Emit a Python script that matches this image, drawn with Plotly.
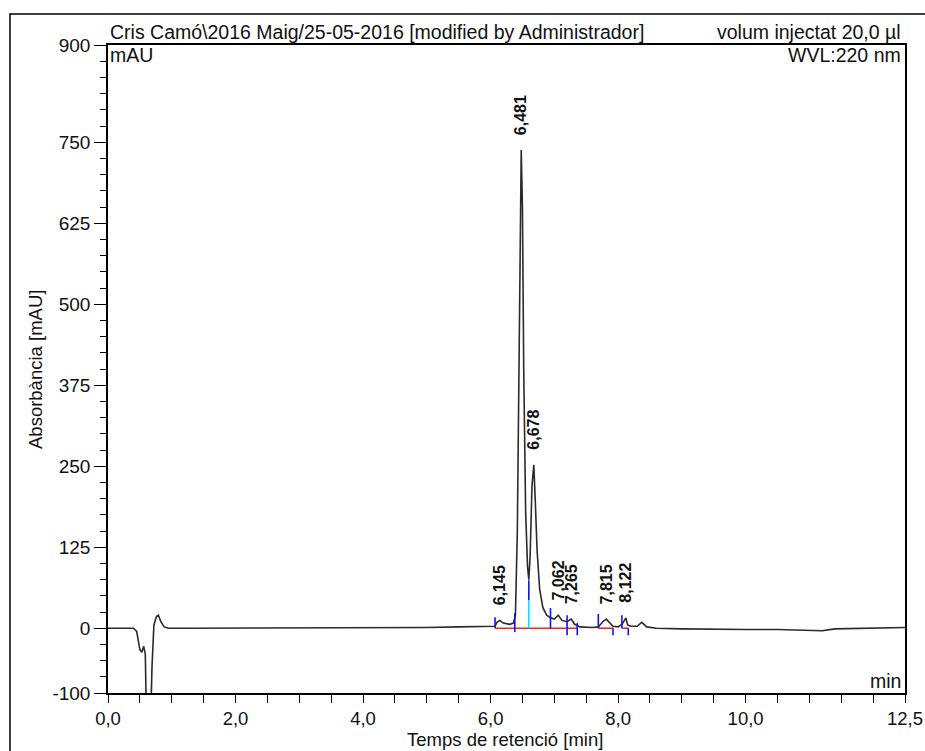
import plotly.graph_objects as go

# ---- data ----
time_min = [0.0, 0.40, 0.45, 0.50, 0.53, 0.56, 0.585, 0.61, 0.66, 0.69, 0.72, 0.76, 0.79, 0.83,
            0.88, 0.95, 1.2, 2.0, 3.0, 4.0, 5.0, 5.5, 6.0, 6.07, 6.10, 6.145, 6.2, 6.3, 6.36,
            6.39, 6.42, 6.45, 6.47, 6.481, 6.50, 6.52, 6.55, 6.58, 6.60, 6.62, 6.65, 6.678,
            6.70, 6.73, 6.77, 6.82, 6.88, 6.94, 7.0, 7.062, 7.12, 7.2, 7.265, 7.32, 7.4, 7.6,
            7.69, 7.76, 7.815, 7.86, 7.92, 8.0, 8.06, 8.1, 8.122, 8.15, 8.2, 8.3, 8.37, 8.45,
            8.6, 9.0, 9.5, 10.0, 10.5, 11.0, 11.2, 11.4, 12.0, 12.5]
absorbance = [0, 0, -5, -33, -37, -28, -40, -180, -180, -60, 5, 18, 20, 10,
              2, 0, 0, 0, 0, 0.5, 1, 2, 2, 3, 9, 12, 8, 6, 8,
              20, 150, 500, 720, 738, 650, 400, 180, 95, 75, 110, 220, 252,
              200, 120, 60, 32, 20, 16, 14, 20, 12, 10, 14, 6, 2, 1,
              2, 10, 14, 9, 3, 2, 6, 12, 16, 5, 3, 3, 9, 2,
              0, -1, -2, -2, -2, -3, -4, -1, 0, 1]

peak_times = [6.145, 6.481, 6.678, 7.062, 7.265, 7.815, 8.122]
peak_heights = [12, 738, 252, 20, 14, 14, 16]
peak_labels = ["6,145", "6,481", "6,678", "7,062", "7,265", "7,815", "8,122"]

# integration baselines (start, end) in minutes
baseline_segments = [(6.07, 7.36), (7.69, 7.92), (8.06, 8.16)]
# peak boundary markers: time, low, high (mAU)
boundary_times = [6.07, 6.38, 6.94, 7.20, 7.36, 7.69, 7.92, 8.06, 8.16]
boundary_low = [0, -6, 0, -11, -11, 0, -11, 0, -11]
boundary_high = [17, 23, 31, 20, 8, 22, 0, 20, 0]
drop_time = 6.60
drop_low, drop_mid, drop_high = 0, 43, 74

x_tickvals = [0, 2, 4, 6, 8, 10, 12.5]
x_ticktext = ["0,0", "2,0", "4,0", "6,0", "8,0", "10,0", "12,5"]
y_tickvals = [-100, 0, 125, 250, 375, 500, 625, 750, 900]
y_ticktext = ["-100", "0", "125", "250", "375", "500", "625", "750", "900"]

FONT = "Arial, Liberation Sans, sans-serif"
TXT = 19.5

fig = go.Figure()

# red baselines
bx, by = [], []
for s, e in baseline_segments:
    bx += [s, e, None]
    by += [0, 0, None]
fig.add_trace(go.Scatter(x=bx, y=by, mode="lines", line=dict(color="#ff2020", width=1.6),
                         hoverinfo="skip", showlegend=False))

# chromatogram
fig.add_trace(go.Scatter(x=time_min, y=absorbance, mode="lines",
                         line=dict(color="#2b2b2b", width=1.6), showlegend=False))

# boundary ticks
tx, ty = [], []
for t, lo, hi in zip(boundary_times, boundary_low, boundary_high):
    tx += [t, t, None]
    ty += [lo, hi, None]
tx += [drop_time, drop_time, None]
ty += [drop_mid, drop_high, None]
fig.add_trace(go.Scatter(x=tx, y=ty, mode="lines", line=dict(color="#1010ff", width=1.6),
                         hoverinfo="skip", showlegend=False))
fig.add_trace(go.Scatter(x=[drop_time, drop_time], y=[drop_low, drop_mid], mode="lines",
                         line=dict(color="#00e5ff", width=1.6), hoverinfo="skip", showlegend=False))

annotations = []
for t, h, lab in zip(peak_times, peak_heights, peak_labels):
    annotations.append(dict(x=t, y=h, xref="x", yref="y", text="<b>" + lab + "</b>", showarrow=False,
                            textangle=-90, yanchor="bottom", xanchor="center", yshift=14,
                            font=dict(family=FONT, size=16, color="#111"), borderpad=0))

annotations += [
    dict(x=0, y=1.020, xref="paper", yref="paper", xanchor="left", yanchor="middle",
         text="Cris Camó\\2016 Maig/25-05-2016 [modified by Administrador]", showarrow=False,
         font=dict(family=FONT, size=TXT, color="#111")),
    dict(x=0.9975, y=1.020, xref="paper", yref="paper", xanchor="right", yanchor="middle",
         text="volum injectat 20,0 µl", showarrow=False, font=dict(family=FONT, size=TXT, color="#111")),
    dict(x=0.0, y=0.9846, xref="paper", yref="paper", xanchor="left", yanchor="middle",
         text="mAU", showarrow=False, font=dict(family=FONT, size=TXT, color="#111")),
    dict(x=0.9975, y=0.9846, xref="paper", yref="paper", xanchor="right", yanchor="middle",
         text="WVL:220 nm", showarrow=False, font=dict(family=FONT, size=TXT, color="#111")),
    dict(x=0.9975, y=0.0185, xref="paper", yref="paper", xanchor="right", yanchor="middle",
         text="min", showarrow=False, font=dict(family=FONT, size=TXT, color="#111")),
    dict(x=-0.0916, y=0.5, xref="paper", yref="paper", xanchor="center", yanchor="middle",
         text="Absorbància [mAU]", textangle=-90, showarrow=False,
         font=dict(family=FONT, size=18.5, color="#111")),
    dict(x=0.498, y=-0.072, xref="paper", yref="paper", xanchor="center", yanchor="middle",
         text="Temps de retenció [min]", showarrow=False, borderpad=0,
         font=dict(family=FONT, size=18.5, color="#111")),
]

fig.update_layout(
    width=925, height=751, autosize=False,
    margin=dict(l=108, r=20, t=45, b=58, autoexpand=False),
    paper_bgcolor="white", plot_bgcolor="white",
    font=dict(family=FONT, size=TXT, color="#111"),
    annotations=annotations,
    shapes=[dict(type="rect", xref="paper", yref="paper", x0=-0.123, x1=1.03, y0=-0.1, y1=1.0478,
                 line=dict(color="black", width=1.5), fillcolor="rgba(0,0,0,0)", layer="below")],
    xaxis=dict(range=[0, 12.5], tickmode="array", tickvals=x_tickvals, ticktext=x_ticktext,
               automargin=False,
               ticks="outside", ticklen=8, tickwidth=1.2, tickcolor="black",
               minor=dict(tickmode="linear", tick0=0, dtick=0.5, ticks="outside", ticklen=8,
                          tickwidth=1.2, tickcolor="black"),
               showline=True, linecolor="black", linewidth=1.5, mirror=True,
               showgrid=False, zeroline=False, tickfont=dict(family=FONT, size=18.5)),
    yaxis=dict(range=[-100, 900], tickmode="array", tickvals=y_tickvals, ticktext=y_ticktext,
               automargin=False,
               ticks="outside", ticklen=12, tickwidth=1.2, tickcolor="black",
               minor=dict(tickmode="linear", tick0=0, dtick=25, ticks="outside", ticklen=6,
                          tickwidth=1.2, tickcolor="black"),
               showline=True, linecolor="black", linewidth=1.5, mirror=True,
               showgrid=False, zeroline=False, tickfont=dict(family=FONT, size=19)),
)

fig.write_html("out.html", config={"displayModeBar": False},
               post_script="document.body.style.margin='0';document.body.style.overflow='hidden';")
